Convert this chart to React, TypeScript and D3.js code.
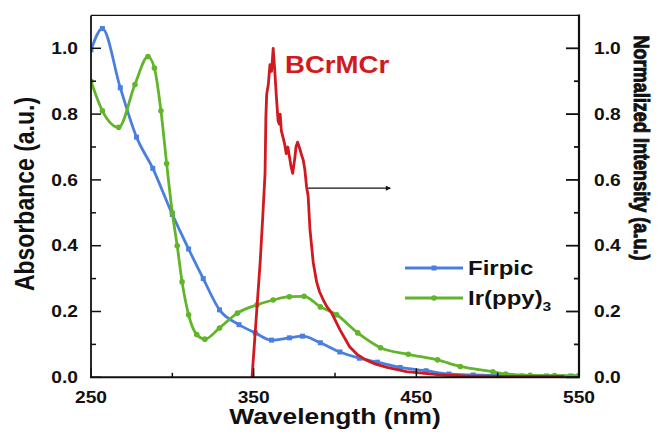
import React from 'react';
import * as d3 from 'd3';

// Firpic absorbance
const firpicNm = [250, 257, 268, 278, 288, 300, 310, 319, 329, 341, 351, 361, 372, 380, 391, 403, 415, 426, 440, 456, 470, 485, 500, 515, 530, 545, 550];
const firpicAbs = [0.995, 1.06, 0.88, 0.73, 0.635, 0.495, 0.39, 0.30, 0.205, 0.16, 0.135, 0.113, 0.12, 0.125, 0.105, 0.077, 0.058, 0.046, 0.03, 0.02, 0.01, 0.007, 0.005, 0.004, 0.004, 0.004, 0.004];

// Ir(ppy)3 absorbance
const irNm = [250, 257, 267, 277, 285, 289, 293, 296.5, 300, 303, 306, 310, 315, 320, 329, 340, 352, 362, 372, 381, 391, 401, 414, 428, 445, 463, 477, 497, 505, 520, 535, 550];
const irAbs = [0.90, 0.81, 0.76, 0.89, 0.975, 0.94, 0.81, 0.65, 0.50, 0.40, 0.29, 0.19, 0.13, 0.116, 0.15, 0.195, 0.22, 0.235, 0.245, 0.246, 0.214, 0.19, 0.135, 0.09, 0.07, 0.053, 0.033, 0.017, 0.01, 0.006, 0.005, 0.005];

// BCrMCr emission
const bcrNm = [349, 352, 354, 355.5, 357, 357.5, 358, 359, 360, 361, 362, 363, 364, 365, 365.7, 366.3, 367, 368, 369, 370, 371, 372, 373, 374, 375.4, 376, 377, 378, 379.5, 380.5, 381.5, 382.5, 383.5, 384.6, 386.6, 388.7, 390.5, 392.8, 395, 398, 403, 409, 414, 419, 425, 432, 444, 463, 480, 500, 541];
const bcrInt = [0, 0.21, 0.35, 0.48, 0.62, 0.79, 0.86, 0.89, 0.95, 0.93, 1.0, 0.93, 0.85, 0.78, 0.77, 0.80, 0.75, 0.73, 0.71, 0.68, 0.70, 0.67, 0.64, 0.62, 0.67, 0.70, 0.715, 0.70, 0.675, 0.66, 0.63, 0.58, 0.55, 0.45, 0.35, 0.29, 0.26, 0.235, 0.215, 0.195, 0.145, 0.093, 0.068, 0.053, 0.04, 0.03, 0.017, 0.008, 0.004, 0.003, 0.003];

const xTicks = [250, 350, 450, 550];
const xMinor = [300, 400, 500];
const yTicks = [0, 0.2, 0.4, 0.6, 0.8, 1.0];
const yMinor = [0.1, 0.3, 0.5, 0.7, 0.9];

const arrowFrom = [383.5, 0.575];
const arrowTo = [434, 0.575];

const BLUE = '#4a7fe0';
const GREEN = '#62b52a';
const RED = '#d01a20';
const FONT = '"Liberation Sans", Arial, sans-serif';
const SX = 1.2; // glyphs look stretched horizontally

const W = 657;
const H = 435;
const left = 91, right = 579, top = 15.4, bottom = 377.3;

const x = d3.scaleLinear().domain([250, 550]).range([left, right]);
const y = d3.scaleLinear().domain([0, 1.1]).range([bottom, top]);

const zip = (a, b) => a.map((v, i) => [v, b[i]]);

const smooth = d3.line().x((d) => x(d[0])).y((d) => y(d[1])).curve(d3.curveMonotoneX);
const jagged = d3.line().x((d) => x(d[0])).y((d) => y(d[1]));

const Txt = ({ x, y, rot = 0, size, anchor = 'middle', fill = '#111', children, dy = '0', stretch = SX, len = undefined, thick = 0 }) => (
    <text
        transform={`translate(${x},${y}) rotate(${rot}) scale(${rot === 0 ? stretch : 1},${rot === 0 ? 1 : stretch})`}
        fontFamily={FONT}
        fontWeight="bold"
        fontSize={size}
        textAnchor={anchor}
        fill={fill}
        stroke={thick ? fill : undefined}
        strokeWidth={thick || undefined}
        dy={dy}
        textLength={len}
        lengthAdjust={len ? 'spacingAndGlyphs' : undefined}
    >
        {children}
    </text>
);

const Square = ({ cx, cy }) => <rect x={cx - 2.5} y={cy - 2.5} width={5} height={5} fill={BLUE} />;
const Dot = ({ cx, cy }) => <circle cx={cx} cy={cy} r={2.8} fill={GREEN} />;

export default function App() {
    const firpic = zip(firpicNm, firpicAbs);
    const ir = zip(irNm, irAbs);
    const bcr = zip(bcrNm, bcrInt);

    return (
        <svg width={W} height={H} style={{ position: 'absolute', left: 0, top: 0, background: '#fff' }}>
            <defs>
                <marker id="arrowHead" viewBox="0 0 10 10" refX="9" refY="5" markerWidth="6" markerHeight="5" orient="auto" markerUnits="userSpaceOnUse">
                    <path d="M0,0 L10,5 L0,10 z" fill="#111" />
                </marker>
                <clipPath id="plot">
                    <rect x={left} y={top - 10} width={right - left} height={bottom - top + 10} />
                </clipPath>
            </defs>

            {/* curves */}
            <g clipPath="url(#plot)">
                <path d={smooth(firpic)} fill="none" stroke={BLUE} strokeWidth={2.8} />
                {firpic.map((d, i) => <Square key={'f' + i} cx={x(d[0])} cy={y(d[1])} />)}
                <path d={smooth(ir)} fill="none" stroke={GREEN} strokeWidth={2.8} />
                {ir.map((d, i) => <Dot key={'g' + i} cx={x(d[0])} cy={y(d[1])} />)}
                <path d={jagged(bcr)} fill="none" stroke={RED} strokeWidth={2.8} strokeLinejoin="round" />
            </g>

            {/* frame */}
            <line x1={left} x2={right} y1={top} y2={top} stroke="#111" strokeWidth={1.2} />
            <line x1={left} x2={left} y1={top} y2={bottom} stroke="#111" strokeWidth={1.8} />
            <line x1={right} x2={right} y1={top - 1} y2={bottom} stroke="#111" strokeWidth={2.2} />
            <line x1={left - 1} x2={right + 1} y1={bottom} y2={bottom} stroke="#111" strokeWidth={2} />

            {/* x ticks */}
            {xTicks.map((t) => (
                <g key={'xt' + t}>
                    <line x1={x(t)} x2={x(t)} y1={bottom} y2={bottom - 9} stroke="#111" strokeWidth={1.5} />
                    <Txt x={x(t)} y={403} size={16}>{t}</Txt>
                </g>
            ))}
            {xMinor.map((t) => (
                <line key={'xm' + t} x1={x(t)} x2={x(t)} y1={bottom} y2={bottom - 4.5} stroke="#111" strokeWidth={1.5} />
            ))}

            {/* left y ticks */}
            {yTicks.map((t) => (
                <g key={'yl' + t}>
                    <line x1={left} x2={left + 10} y1={y(t)} y2={y(t)} stroke="#111" strokeWidth={1.5} />
                    <Txt x={78} y={y(t)} size={16} anchor="end" dy="0.36em">{t.toFixed(1)}</Txt>
                </g>
            ))}
            {yMinor.map((t) => (
                <line key={'ylm' + t} x1={left} x2={left + 5} y1={y(t)} y2={y(t)} stroke="#111" strokeWidth={1.5} />
            ))}

            {/* right y ticks */}
            {yTicks.map((t) => (
                <g key={'yr' + t}>
                    <line x1={right} x2={right - 13} y1={y(t)} y2={y(t)} stroke="#111" strokeWidth={1.8} />
                    <Txt x={594} y={y(t)} size={16} anchor="start" dy="0.36em">{t.toFixed(1)}</Txt>
                </g>
            ))}
            {yMinor.map((t) => (
                <line key={'yrm' + t} x1={right} x2={right - 5} y1={y(t)} y2={y(t)} stroke="#111" strokeWidth={1.8} />
            ))}

            {/* axis titles */}
            <Txt x={335} y={424} size={22}>Wavelength (nm)</Txt>
            <Txt x={34} y={194} rot={-90} size={23}>Absorbance (a.u.)</Txt>
            <Txt x={634} y={148} rot={90} size={21} stretch={1.05} len={225} thick={0.9}>Normalized Intensity (a.u.)</Txt>

            {/* emission label + arrow */}
            <Txt x={285} y={73} size={23} anchor="start" fill={RED}>BCrMCr</Txt>
            <line x1={x(arrowFrom[0])} x2={x(arrowTo[0])} y1={y(arrowFrom[1])} y2={y(arrowTo[1])}
                stroke="#111" strokeWidth={1.4} markerEnd="url(#arrowHead)" />

            {/* legend */}
            <line x1={405} x2={463} y1={268} y2={268} stroke={BLUE} strokeWidth={2.8} />
            <Square cx={434} cy={268} />
            <Txt x={468} y={268} size={20} anchor="start" dy="0.36em">Firpic</Txt>
            <line x1={405} x2={463} y1={298} y2={298} stroke={GREEN} strokeWidth={2.8} />
            <Dot cx={434} cy={298} />
            <Txt x={468} y={298} size={20} anchor="start" dy="0.36em">
                Ir(ppy)<tspan fontSize={13} dy="6">3</tspan>
            </Txt>
        </svg>
    );
}
